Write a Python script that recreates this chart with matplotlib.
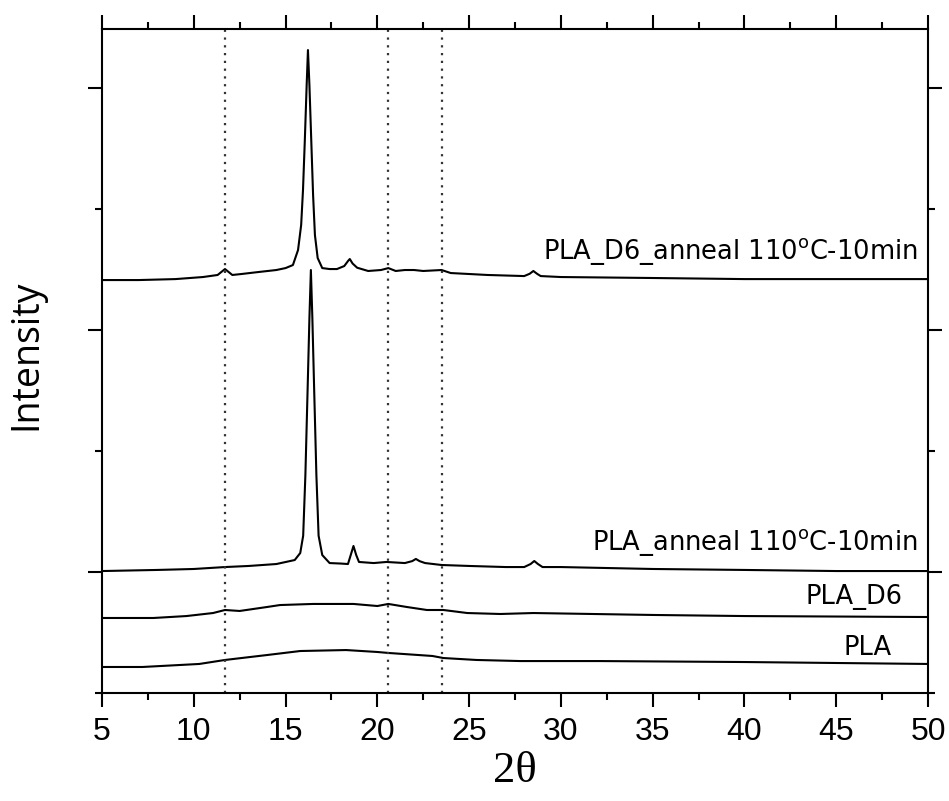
import matplotlib.pyplot as plt
from matplotlib.ticker import FixedLocator, MultipleLocator

# intensity in arbitrary counts
x_d6_anneal = [5, 7, 9, 10.5, 11.3, 11.7, 12.1, 12.6, 13.5, 14.5, 15.0, 15.4, 15.68, 15.85,
               15.95, 16.05, 16.15, 16.22, 16.3, 16.4, 16.5, 16.6, 16.75, 17.0, 17.4, 17.8,
               18.2, 18.4, 18.5, 18.65, 18.9, 19.5, 20.2, 20.6, 21.0, 21.5, 22.0, 22.5,
               23.5, 24.0, 26, 28.0, 28.3, 28.5, 28.7, 28.9, 30, 35, 40, 45, 50]
y_d6_anneal = [3413, 3413, 3421, 3438, 3455, 3504, 3455, 3463, 3479, 3496, 3512, 3537, 3661,
               3868, 4157, 4570, 5025, 5314, 5025, 4570, 4116, 3785, 3595, 3512, 3504, 3504,
               3529, 3570, 3587, 3550, 3515, 3488, 3496, 3512, 3488, 3496, 3496, 3488,
               3496, 3471, 3455, 3446, 3465, 3488, 3465, 3446, 3438, 3430, 3421, 3421, 3421]

x_anneal = [5, 8, 10, 11.7, 13, 14.5, 15.5, 15.8, 15.96, 16.08, 16.2, 16.3, 16.38, 16.46,
            16.56, 16.68, 16.8, 17.0, 17.4, 18.0, 18.4, 18.55, 18.7, 18.85, 19.0, 19.8,
            20.5, 21.5, 21.9, 22.1, 22.3, 22.6, 23.5, 25, 27, 28.0, 28.35, 28.55, 28.75,
            29.0, 30, 35, 40, 45, 50]
y_anneal = [1008, 1017, 1025, 1041, 1050, 1066, 1099, 1157, 1300, 1800, 2500, 3100, 3496,
            3100, 2500, 1800, 1300, 1140, 1074, 1070, 1066, 1140, 1215, 1140, 1083, 1074,
            1083, 1074, 1090, 1108, 1090, 1074, 1058, 1050, 1041, 1041, 1066, 1091, 1066,
            1041, 1041, 1025, 1017, 1008, 1008]

x_d6 = [5, 7.8, 9.6, 11.05, 11.7, 12.5, 14.0, 14.7, 16.5, 18.7, 20.0, 20.6, 21.6, 22.7,
        23.6, 24.9, 26.7, 28.5, 35, 40, 50]
y_d6 = [620, 620, 636, 661, 686, 678, 711, 727, 736, 736, 719, 736, 711, 686, 686, 661,
        653, 661, 645, 636, 628]

x_pla = [5, 7.2, 10.3, 11.7, 14.0, 15.8, 18.3, 20.0, 20.6, 23.0, 23.6, 25.4, 27.8, 32.1,
         40, 45, 50]
y_pla = [215, 215, 240, 273, 314, 347, 355, 339, 331, 306, 289, 273, 264, 264, 256, 248, 240]

ref_lines = [11.7, 20.6, 23.5]

labels = ['PLA_D6_anneal 110$^\\mathregular{o}$C-10min',
          'PLA_anneal 110$^\\mathregular{o}$C-10min', 'PLA_D6', 'PLA']
label_x = [49.45, 49.45, 48.6, 48.0]
label_y = [3645, 1240, 793, 372]

fig = plt.figure(figsize=(9.49, 8.01), dpi=100)
ax = fig.add_axes([102 / 949, 1 - 693 / 801, 826 / 949, 664 / 801])

for xs, ys in [(x_d6_anneal, y_d6_anneal), (x_anneal, y_anneal), (x_d6, y_d6), (x_pla, y_pla)]:
    ax.plot(xs, ys, color='black', lw=1.5)

for xv in ref_lines:
    ax.axvline(xv, color='#333333', lw=1.6, ls=(0, (1, 2.5)))

for txt, tx, ty in zip(labels, label_x, label_y):
    ax.text(tx, ty, txt, ha='right', va='center', fontsize=18.5, family='DejaVu Sans')

ax.set_xlim(5, 50)
ax.set_ylim(0, 5488)
ax.xaxis.set_major_locator(MultipleLocator(5))
ax.xaxis.set_minor_locator(MultipleLocator(2.5))
ax.yaxis.set_major_locator(FixedLocator([1000, 3000, 5000]))
ax.yaxis.set_minor_locator(FixedLocator([0, 2000, 4000]))
ax.set_yticklabels([])

ax.tick_params(which='both', direction='out', width=1.5, top=True, right=True)
ax.tick_params(which='major', length=10)
ax.tick_params(which='minor', length=5)
ax.tick_params(axis='x', labelsize=23, pad=7)
for lab in ax.get_xticklabels():
    lab.set_family('Liberation Sans')
for sp in ax.spines.values():
    sp.set_linewidth(1.5)

ax.set_xlabel('2θ', fontsize=32, family='Liberation Serif', labelpad=3)
ax.set_ylabel('Intensity', fontsize=27, family='Open Sans')
ax.yaxis.set_label_coords(-0.069, 0.509)

fig.savefig('out.png', dpi=100)
